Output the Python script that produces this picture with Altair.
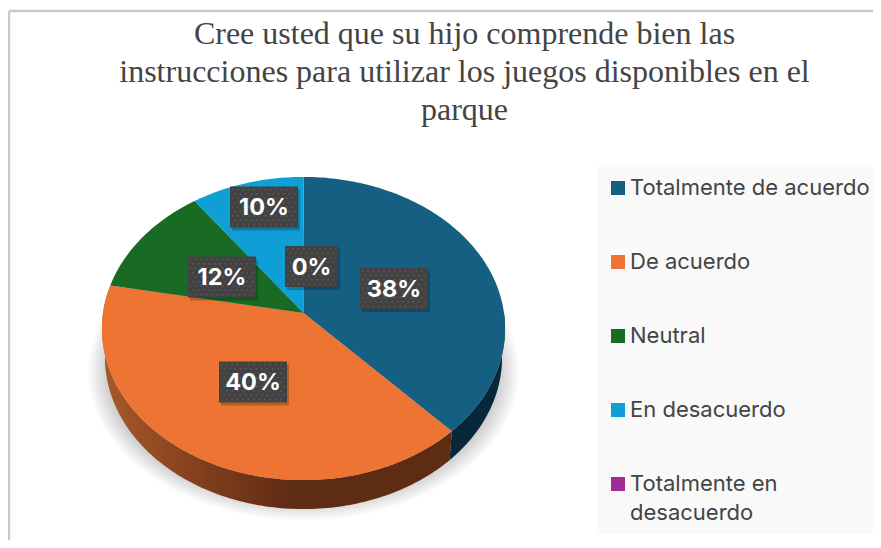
import math
import altair as alt

# ---- values ----
categories = ["Totalmente de acuerdo", "De acuerdo", "Neutral", "En desacuerdo", "Totalmente en desacuerdo"]
values = [38, 40, 12, 10, 0]
colors = ["#156082", "#EE7433", "#196B24", "#0F9ED5", "#A02B93"]
label_texts = ["38%", "40%", "12%", "10%", "0%"]
title_lines = ["Cree usted que su hijo comprende bien las",
               "instrucciones para utilizar los juegos disponibles en el",
               "parque"]

W, H = 865, 532
OFF = 8  # page margin
CX, CY = 303.5 - OFF, 313 - OFF
A, B, K = 150.0, 200.5, 0.1023
DEPTH = 29.0


def rim(theta_deg, drop=0.0, sx=1.0):
    t = math.radians(theta_deg)
    X, Y = math.sin(t), -math.cos(t)
    d = 1 - K * Y
    return [CX + sx * B * X / d, CY + A * Y / d + drop]


def angle_steps(a0, a1):
    n = max(1, int(abs(a1 - a0)))
    return [a0 + (a1 - a0) * i / n for i in range(n + 1)]


def feature(name, ring):
    return {"type": "Feature", "properties": {"name": name},
            "geometry": {"type": "Polygon", "coordinates": [ring + [ring[0]]]}}


def geo(features):
    return alt.InlineData(values={"type": "FeatureCollection", "features": features},
                          format=alt.DataFormat(type="json", property="features"))


PROJ = dict(type="identity", scale=1, translate=[0, 0])

starts = []
acc = 0.0
for v in values:
    starts.append(acc)
    acc += v * 3.6

layers = []

# soft ground shadow
for i in range(9):
    ex, ey = 303.5 - OFF, 372 - OFF
    rx, ry = 215 - i * 2.5, 148 - i * 2.2
    ring = [[ex + rx * math.cos(math.radians(a)), min(ey + ry * math.sin(math.radians(a)), 520 - OFF)]
            for a in range(0, 360, 3)]
    layers.append(alt.Chart(geo([feature("s", ring)])).mark_geoshape(
        fill="#000000", fillOpacity=0.022, strokeWidth=0).project(**PROJ))

# pie side wall
wall_fill = [
    "#07283B",
    alt.LinearGradient(gradient="linear", x1=0, x2=1, y1=0, y2=0, stops=[
        alt.GradientStop(color="#A8592A", offset=0),
        alt.GradientStop(color="#7F3E1B", offset=0.3),
        alt.GradientStop(color="#5E2B13", offset=0.55),
        alt.GradientStop(color="#5E2B13", offset=1)]),
]
for i in [0, 1]:
    a0, a1 = starts[i], starts[i] + values[i] * 3.6
    if i == 0:
        a0 = 90
    pts = angle_steps(a0, a1)
    ring = [rim(a) for a in pts] + [rim(a, DEPTH, 0.985) for a in reversed(pts)]
    layers.append(alt.Chart(geo([feature(categories[i], ring)])).mark_geoshape(
        fill=wall_fill[i], strokeWidth=0).project(**PROJ))

# pie top surface
feats = []
for i, name in enumerate(categories):
    a0, a1 = starts[i], starts[i] + values[i] * 3.6
    ring = [[CX, CY]] + [rim(a) for a in angle_steps(a0, a1)]
    feats.append(feature(name, ring))
top = alt.Chart(geo(feats)).mark_geoshape(strokeWidth=0).encode(
    color=alt.Color("properties.name:N",
                    scale=alt.Scale(domain=categories, range=colors),
                    legend=alt.Legend(
                        title=None, orient="none", legendX=597 - OFF, legendY=167 - OFF,
                        fillColor="#F9F9F9", padding=10, symbolType="square", symbolSize=196,
                        symbolStrokeWidth=0, labelFont="Inter", labelFontSize=22,
                        labelColor="#444444", labelOffset=1, rowPadding=52, labelLimit=300,
                        labelExpr="datum.label == 'Totalmente en desacuerdo' ? ['Totalmente en', 'desacuerdo'] : datum.label",
                    ))
).project(**PROJ)
layers.append(top)

# data labels (box centres, page pixels, minus margin)
box_cx = [394, 253, 222, 264, 311.5]
box_cy = [288.5, 382, 277, 207, 266.5]
box_w = [68, 68, 68, 68, 53]
BOX_H = 41
for i, txt in enumerate(label_texts):
    d = alt.Data(values=[{"x": box_cx[i] - OFF, "y": box_cy[i] - OFF, "t": txt}])
    base = alt.Chart(d).encode(x=alt.X("x:Q", scale=None), y=alt.Y("y:Q", scale=None))
    layers.append(base.mark_rect(width=box_w[i], height=BOX_H, fill="#000000", opacity=0.22, xOffset=2, yOffset=3))
    layers.append(base.mark_rect(width=box_w[i], height=BOX_H, fill="#424242"))
    # dotted box texture
    dots = []
    rows = int(BOX_H / 4.4)
    for r in range(rows):
        cols = int(box_w[i] / 5.4)
        for c in range(cols):
            dots.append({"x": box_cx[i] - OFF - box_w[i] / 2 + 2.5 + c * 5.4 + (r % 2) * 2.7,
                         "y": box_cy[i] - OFF - BOX_H / 2 + 3 + r * 4.4})
    layers.append(alt.Chart(alt.Data(values=dots)).mark_square(size=2.5, color="#5A5A5A", opacity=1).encode(
        x=alt.X("x:Q", scale=None), y=alt.Y("y:Q", scale=None)))
    layers.append(base.mark_text(font="Inter", fontSize=23.5, fontWeight="bold", color="#FFFFFF", dy=1).encode(text="t:N"))

# frame
layers.append(alt.Chart(alt.Data(values=[{"a": 0}])).mark_rule(color="#C9C9C9", strokeWidth=2.5).encode(
    x=alt.value(1), x2=alt.value(W), y=alt.value(3)))
layers.append(alt.Chart(alt.Data(values=[{"a": 0}])).mark_rule(color="#C9C9C9", strokeWidth=2.5).encode(
    x=alt.value(1), y=alt.value(3), y2=alt.value(H)))

chart = alt.layer(*layers).properties(
    width=W, height=H, padding=0,
    autosize=alt.AutoSizeParams(type="none"),
    title=alt.TitleParams(text=title_lines, font="Liberation Serif", fontSize=32, fontWeight="normal",
                          color="#444444", lineHeight=38, anchor="middle", frame="group", dx=24, dy=123),
).configure(view=alt.ViewConfig(stroke=None), style={"guide-label": {"lineHeight": 29}})

chart.save("out.html", embed_options={"renderer": "svg", "actions": False})
